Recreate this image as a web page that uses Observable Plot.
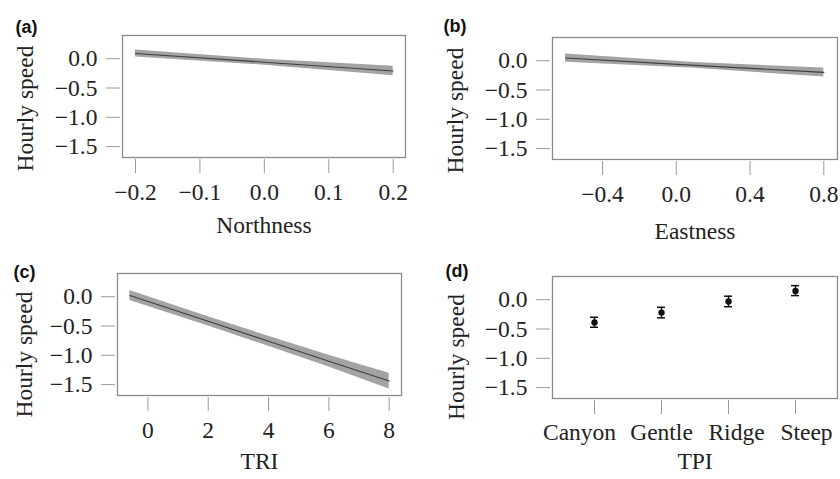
<!DOCTYPE html>
<html>
<head>
<meta charset="utf-8">
<script src="https://cdn.jsdelivr.net/npm/d3@7"></script>
<script src="https://cdn.jsdelivr.net/npm/@observablehq/plot@0.6"></script>
<style>
  html, body { margin: 0; padding: 0; background: white; }
  #wrap { position: relative; width: 840px; height: 479px; overflow: hidden; background: white; }
  #wrap > div { position: absolute; }
  #wrap svg { overflow: visible; }
</style>
</head>
<body>
<div id="wrap">
  <div id="pa" style="left:0;top:0"></div>
  <div id="pb" style="left:420px;top:0"></div>
  <div id="pc" style="left:0;top:240px"></div>
  <div id="pd" style="left:420px;top:240px"></div>
</div>
<script>
// ---- data ----
const yTicks = [0, -0.5, -1, -1.5];

const northX   = [-0.2, 0, 0.2];
const northFit = [0.09, -0.06, -0.21];
const northLo  = [0.03, -0.11, -0.29];
const northHi  = [0.15, -0.01, -0.13];
const northTicks = [-0.2, -0.1, 0, 0.1, 0.2];

const eastX   = [-0.6, 0.1, 0.8];
const eastFit = [0.045, -0.08, -0.2];
const eastLo  = [-0.025, -0.13, -0.28];
const eastHi  = [0.115, -0.03, -0.125];
const eastTicks = [-0.4, 0, 0.4, 0.8];

const triX   = [-0.6, 2, 4, 6, 8];
const triFit = [0.02, -0.42, -0.76, -1.10, -1.44];
const triLo  = [-0.065, -0.50, -0.845, -1.20, -1.575];
const triHi  = [0.105, -0.34, -0.675, -1.00, -1.305];
const triTicks = [0, 2, 4, 6, 8];

const tpiCats = ["Canyon", "Gentle", "Ridge", "Steep"];
const tpiMean = [-0.39, -0.22, -0.03, 0.15];
const tpiLo   = [-0.47, -0.31, -0.12, 0.07];
const tpiHi   = [-0.30, -0.13, 0.06, 0.24];
const tpiLabelShift = [-15, 0, 8, 11]; // label offsets seen in the reference

const panelLabels = ["(a)", "(b)", "(c)", "(d)"];
const xTitles = ["Northness", "Eastness", "TRI", "TPI"];
const yTitle = "Hourly speed";

// ---- helpers ----
const f1 = d3.format(".1f");
const f0 = d3.format("d");
const rows = (xs, fit, lo, hi) => xs.map((x, i) => ({x, fit: fit[i], lo: lo[i], hi: hi[i]}));

const serif = "Liberation Serif, Times New Roman, serif";
const TICK = "#9a9a9a";
const BOX = "#8a8a8a";
const TFS = 23.5; // tick label size
const LFS = 23.5; // axis title size
const svgStyle = {fontFamily: serif, fontSize: TFS + "px", background: "transparent", color: "#222", overflow: "visible"};

function commonMarks(p) {
  return [
    Plot.frame({stroke: BOX, strokeWidth: 1.3, inset: 2}),
    Plot.axisY(yTicks, {anchor: "left", tickSize: 14, tickPadding: 9, tickFormat: f1,
      stroke: TICK, fill: "#222", fontSize: TFS, label: null}),
    Plot.text([p.label], {frameAnchor: "top-left", text: d => d, dx: p.ldx, dy: p.ldy,
      textAnchor: "start", lineAnchor: "middle", fontFamily: "Liberation Sans, Arial, sans-serif",
      fontWeight: "bold", fontSize: 18, fill: "#111"}),
    Plot.text([p.xTitle], {frameAnchor: "bottom", text: d => d, dy: p.xdy,
      textAnchor: "middle", lineAnchor: "middle", fontSize: LFS, fill: "#222"}),
    Plot.text([yTitle], {frameAnchor: "left", text: d => d, dx: p.ydx, dy: p.ydy,
      rotate: -90, textAnchor: "middle", lineAnchor: "middle", fontSize: LFS, fill: "#222"})
  ];
}

function linePanel(el, p, data, xDomain, xTicks, fmt) {
  const chart = Plot.plot({
    width: 420, height: p.h,
    marginLeft: p.ml, marginRight: p.mr, marginTop: p.mt, marginBottom: p.mb,
    style: svgStyle,
    x: {domain: xDomain, axis: null},
    y: {domain: [-1.72, 0.43], axis: null},
    marks: [
      Plot.areaY(data, {x: "x", y1: "lo", y2: "hi", fill: "#a3a3a3"}),
      Plot.lineY(data, {x: "x", y: "fit", stroke: "#3f3f3f", strokeWidth: 1.1}),
      Plot.axisX(xTicks, {anchor: "bottom", tickSize: 14, tickPadding: 10, tickFormat: fmt,
        stroke: TICK, fill: "#222", fontSize: TFS, label: null}),
      ...commonMarks(p)
    ]
  });
  document.getElementById(el).appendChild(chart);
}

// (a) Northness
linePanel("pa", {h: 240, ml: 120, mr: 13, mt: 33, mb: 81, label: panelLabels[0], ldx: -105, ldy: -6,
  xTitle: xTitles[0], xdy: 66, ydx: -95, ydy: 12},
  rows(northX, northFit, northLo, northHi), [-0.2233, 0.2222], northTicks, f1);

// (b) Eastness
linePanel("pb", {h: 240, ml: 130, mr: 1, mt: 35, mb: 79, label: panelLabels[1], ldx: -107, ldy: -9,
  xTitle: xTitles[1], xdy: 70, ydx: -95, ydy: 12},
  rows(eastX, eastFit, eastLo, eastHi), [-0.682, 0.885], eastTicks, f1);

// (c) TRI
linePanel("pc", {h: 239, ml: 115, mr: 17, mt: 31, mb: 82, label: panelLabels[2], ldx: -102, ldy: 1,
  xTitle: xTitles[2], xdy: 64, ydx: -91, ydy: 20},
  rows(triX, triFit, triLo, triHi), [-1.075, 8.475], triTicks, f0);

// (d) TPI
{
  const p = {h: 239, ml: 130, mr: 1, mt: 34, mb: 79, label: panelLabels[3], ldx: -105, ldy: -3,
    xTitle: xTitles[3], xdy: 61, ydx: -94, ydy: 19.5};
  const data = tpiCats.map((c, i) => ({cat: c, m: tpiMean[i], lo: tpiLo[i], hi: tpiHi[i]}));
  const labelAxes = tpiCats.map((c, i) =>
    Plot.axisX([c], {anchor: "bottom", tickSize: 0, tickPadding: 23, dx: tpiLabelShift[i],
      fill: "#222", fontSize: TFS, label: null}));
  const chart = Plot.plot({
    width: 420, height: p.h,
    marginLeft: p.ml, marginRight: p.mr, marginTop: p.mt, marginBottom: p.mb,
    style: svgStyle,
    x: {type: "band", domain: tpiCats, paddingInner: 0.88, paddingOuter: 0.57, axis: null},
    y: {domain: [-1.72, 0.43], axis: null},
    marks: [
      Plot.ruleX(data, {x: "cat", y1: "lo", y2: "hi", stroke: "#111", strokeWidth: 1.5}),
      Plot.tickY(data, {x: "cat", y: "lo", stroke: "#111", strokeWidth: 1.5}),
      Plot.tickY(data, {x: "cat", y: "hi", stroke: "#111", strokeWidth: 1.5}),
      Plot.dot(data, {x: "cat", y: "m", r: 3.2, fill: "#111", stroke: "none"}),
      Plot.axisX({anchor: "bottom", tickSize: 14, tickFormat: () => "",
        stroke: TICK, label: null}),
      ...labelAxes,
      ...commonMarks(p)
    ]
  });
  document.getElementById("pd").appendChild(chart);
}
</script>
</body>
</html>
